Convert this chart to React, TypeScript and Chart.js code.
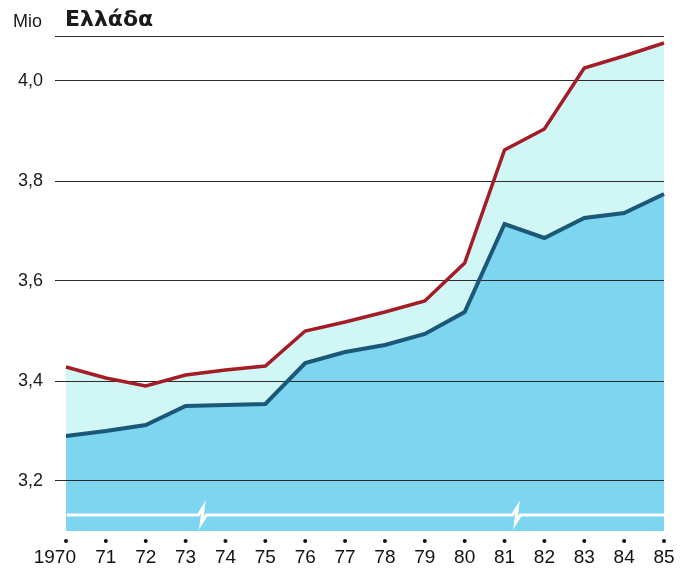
import React, { useEffect, useRef } from "react";
import { Chart, registerables } from "chart.js";

Chart.register(...registerables);

const years = ["1970", "71", "72", "73", "74", "75", "76", "77", "78", "79", "80", "81", "82", "83", "84", "85"];
const upperSeries = [3.428, 3.406, 3.39, 3.412, 3.422, 3.43, 3.5, 3.518, 3.538, 3.56, 3.636, 3.862, 3.904, 4.026, 4.05, 4.076];
const lowerSeries = [3.29, 3.3, 3.312, 3.35, 3.352, 3.354, 3.436, 3.458, 3.472, 3.494, 3.538, 3.714, 3.686, 3.726, 3.736, 3.774];
const yTickValues = [3.2, 3.4, 3.6, 3.8, 4.0];
const yMin = 3.1;
const yMax = 4.09;
const breakIndexes = [3.42, 11.3];
const breakValue = 3.132;
const unitLabel = "Mio";
const titleText = "Ελλάδα";

const FONT = "'Liberation Sans', Arial, sans-serif";

export default function App() {
  const ref = useRef<HTMLCanvasElement | null>(null);

  useEffect(() => {
    document.body.style.margin = "0";
    const canvas = ref.current;
    if (!canvas) return;

    const decor = {
      id: "decor",
      afterDatasetsDraw(chart: any) {
        const ctx = chart.ctx;
        const xs = chart.scales.x;
        const ys = chart.scales.y;
        const area = chart.chartArea;
        const y = ys.getPixelForValue(breakValue);
        ctx.save();
        ctx.strokeStyle = "#ffffff";
        ctx.lineWidth = 3;
        ctx.lineJoin = "miter";
        ctx.beginPath();
        ctx.moveTo(area.left + 1, y);
        breakIndexes.forEach((bi) => {
          const bx = xs.getPixelForValue(bi);
          ctx.lineTo(bx - 4, y);
          ctx.lineTo(bx + 1, y - 8);
          ctx.lineTo(bx - 1, y + 8);
          ctx.lineTo(bx + 4, y);
        });
        ctx.lineTo(area.right + 1, y);
        ctx.stroke();
        ctx.restore();
      },
      afterDraw(chart: any) {
        const ctx = chart.ctx;
        const xs = chart.scales.x;
        const area = chart.chartArea;
        ctx.save();
        ctx.fillStyle = "#111111";
        ctx.font = `19px ${FONT}`;
        ctx.textBaseline = "alphabetic";
        years.forEach((label, i) => {
          const px = xs.getPixelForValue(i);
          ctx.beginPath();
          ctx.arc(px, area.bottom + 10, 2, 0, Math.PI * 2);
          ctx.fill();
          if (i === 0) {
            ctx.textAlign = "right";
            ctx.fillText(label, px + 10, area.bottom + 32);
          } else {
            ctx.textAlign = "center";
            ctx.fillText(label, px, area.bottom + 32);
          }
        });
        ctx.textAlign = "left";
        ctx.fillStyle = "#1a1a1a";
        ctx.font = `18px ${FONT}`;
        ctx.fillText(unitLabel, 13, 27);
        ctx.font = `bold 22px 'DejaVu Sans', sans-serif`;
        ctx.fillText(titleText, 65, 26);
        ctx.restore();
      },
    };

    const chart = new Chart(canvas, {
      type: "line",
      data: {
        labels: years,
        datasets: [
          {
            data: lowerSeries,
            borderColor: "#1b5878",
            borderWidth: 4,
            backgroundColor: "#7dd5ef",
            fill: "start",
            pointRadius: 0,
            tension: 0,
          },
          {
            data: upperSeries,
            borderColor: "#a31c26",
            borderWidth: 3.5,
            backgroundColor: "#d0f7f6",
            fill: "start",
            pointRadius: 0,
            tension: 0,
          },
        ],
      },
      options: {
        responsive: false,
        animation: false,
        events: [],
        layout: { padding: { top: 36, right: 24, bottom: 0, left: 0 } },
        plugins: {
          legend: { display: false },
          tooltip: { enabled: false },
          filler: { drawTime: "beforeDraw" } as any,
        },
        scales: {
          x: {
            type: "category",
            offset: false,
            grid: { display: false, drawTicks: false },
            border: { display: false },
            ticks: { display: false, autoSkip: false },
            afterFit(scale: any) {
              scale.height = 42;
            },
          },
          y: {
            min: yMin,
            max: yMax,
            grid: {
              color: "#2b2b2b",
              lineWidth: 1,
              drawTicks: true,
              tickLength: 11,
              tickColor: "#2b2b2b",
            },
            border: { display: false },
            ticks: {
              padding: 12,
              color: "#1a1a1a",
              font: { family: FONT, size: 18 },
              callback: (v: any) => {
                const n = Number(v);
                return yTickValues.some((t) => Math.abs(t - n) < 1e-6) ? n.toFixed(1).replace(".", ",") : "";
              },
            },
            afterBuildTicks(scale: any) {
              scale.ticks = [...yTickValues, yMax].map((value) => ({ value }));
            },
            afterFit(scale: any) {
              scale.width = 66;
            },
          },
        },
      },
      plugins: [decor],
    });

    return () => chart.destroy();
  }, []);

  return (
    <div style={{ width: 688, height: 573 }}>
      <canvas ref={ref} width={688} height={573} style={{ display: "block" }} />
    </div>
  );
}
